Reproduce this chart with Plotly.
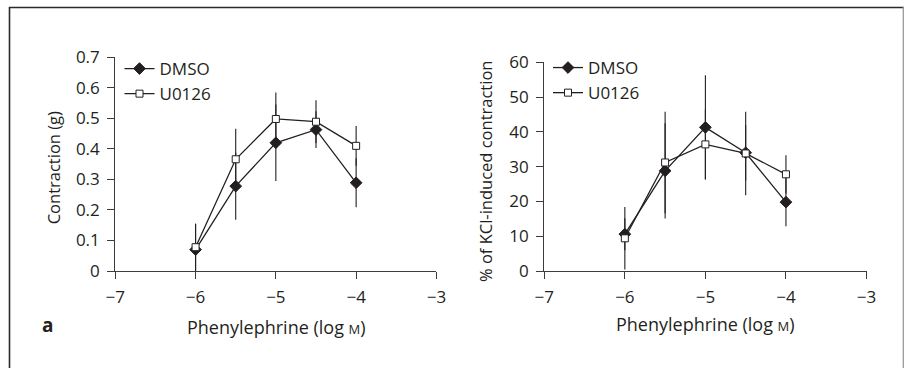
import plotly.graph_objects as go

# ---- data ----
log_pe = [-6, -5.5, -5, -4.5, -4]

# Left panel: contraction (g)
dmso_g = [0.07, 0.278, 0.42, 0.463, 0.289]
dmso_g_err = [0.085, 0.11, 0.125, 0.06, 0.08]
u0126_g = [0.078, 0.366, 0.498, 0.489, 0.41]
u0126_g_err = [0.077, 0.10, 0.087, 0.07, 0.065]

# Right panel: % of KCl-induced contraction
dmso_pct = [10.6, 28.8, 41.3, 34.0, 19.8]
dmso_pct_err = [4.6, 13.7, 15.0, 8.0, 6.9]
u0126_pct = [9.4, 31.2, 36.4, 33.8, 27.8]
u0126_pct_err = [9.0, 14.6, 10.0, 12.0, 5.5]

left_yticks = [0, 0.1, 0.2, 0.3, 0.4, 0.5, 0.6, 0.7]
right_yticks = [0, 10, 20, 30, 40, 50, 60]
xticks = [-7, -6, -5, -4, -3]

INK = "#231f20"
AX = "#3c3c3c"
FONT = "Open Sans"
W, H = 904, 368


def px_x(p):
    return p / W


def px_y(p):
    return (H - p) / H


fig = go.Figure()


def add_series(x, y, err, name, symbol, fill, xa, ya, legend):
    fig.add_trace(go.Scatter(
        x=x, y=y, name=name, mode="lines+markers",
        xaxis=xa, yaxis=ya, legend=legend,
        line=dict(color=INK, width=1.3),
        marker=dict(symbol=symbol, size=9 if symbol == "diamond" else 7,
                    color=fill, line=dict(color=INK, width=1)),
        error_y=dict(type="data", array=err, visible=True,
                     color=INK, thickness=1.1, width=0),
        cliponaxis=False,
    ))


add_series(log_pe, dmso_g, dmso_g_err, "DMSO", "diamond", INK, "x", "y", "legend")
add_series(log_pe, u0126_g, u0126_g_err, "U0126", "square", "white", "x", "y", "legend")
add_series(log_pe, dmso_pct, dmso_pct_err, "DMSO", "diamond", INK, "x2", "y2", "legend2")
add_series(log_pe, u0126_pct, u0126_pct_err, "U0126", "square", "white", "x2", "y2", "legend2")

axis_common = dict(
    showline=True, linecolor=AX, linewidth=1.2,
    ticks="outside", ticklen=7, tickwidth=1.2, tickcolor=AX,
    showgrid=False, zeroline=False, automargin=False,
    tickfont=dict(family=FONT, size=17, color=INK),
)

legend_font = dict(family=FONT, size=17, color=INK)

fig.update_layout(
    width=W, height=H, autosize=False,
    margin=dict(l=0, r=0, t=0, b=0),
    paper_bgcolor="white", plot_bgcolor="white",
    font=dict(family=FONT, color=INK),
    xaxis=dict(domain=[px_x(115.3), px_x(436.4)], range=[-7, -3],
               tickvals=xticks, anchor="y", ticklabelstandoff=3, **axis_common),
    yaxis=dict(domain=[px_y(271), px_y(57.3)], range=[0, 0.7],
               tickvals=left_yticks, anchor="x", ticklabelstandoff=4,
               **axis_common),
    xaxis2=dict(domain=[px_x(544.3), px_x(866.5)], range=[-7, -3],
                tickvals=xticks, anchor="y2", ticklabelstandoff=3, **axis_common),
    yaxis2=dict(domain=[px_y(271), px_y(62.3)], range=[0, 60],
                tickvals=right_yticks, anchor="x2", ticklabelstandoff=4,
                **axis_common),
    legend=dict(x=px_x(119.5), y=px_y(51), xanchor="left", yanchor="top",
                bgcolor="rgba(0,0,0,0)", font=legend_font,
                tracegroupgap=0, itemwidth=30),
    legend2=dict(x=px_x(548), y=px_y(50), xanchor="left", yanchor="top",
                 bgcolor="rgba(0,0,0,0)", font=legend_font,
                 tracegroupgap=0, itemwidth=30),
    showlegend=True,
)

xtitle = "Phenylephrine (log <span style='font-size:13px'>M</span>)"
annotations = [
    dict(text="Contraction (g)", x=px_x(53.3), y=px_y(168), textangle=-90,
         font=dict(family=FONT, size=16.5, color=INK)),
    dict(text="% of KCl-induced contraction", x=px_x(485.5), y=px_y(171.5), textangle=-90,
         font=dict(family=FONT, size=16.5, color=INK)),
    dict(text=xtitle, x=px_x(276), y=px_y(327),
         font=dict(family=FONT, size=18, color=INK)),
    dict(text=xtitle, x=px_x(705.6), y=px_y(324),
         font=dict(family=FONT, size=18, color=INK)),
    dict(text="<b>a</b>", x=px_x(47), y=px_y(325),
         font=dict(family=FONT, size=19, color=INK)),
]
for a in annotations:
    a.update(xref="paper", yref="paper", showarrow=False,
             xanchor="center", yanchor="middle")
fig.update_layout(annotations=annotations)

# outer frame (top, left dark; right light)
fig.add_shape(type="line", xref="paper", yref="paper",
              x0=px_x(9), x1=1.0, y0=px_y(7.5), y1=px_y(7.5),
              line=dict(color="#2a2a2a", width=1.6))
fig.add_shape(type="line", xref="paper", yref="paper",
              x0=px_x(9.5), x1=px_x(9.5), y0=px_y(7), y1=0.0,
              line=dict(color="#2a2a2a", width=1.6))
fig.add_shape(type="line", xref="paper", yref="paper",
              x0=px_x(903.3), x1=px_x(903.3), y0=px_y(7), y1=0.0,
              line=dict(color="#9a9a9a", width=1.3))

fig.write_html("out.html")
